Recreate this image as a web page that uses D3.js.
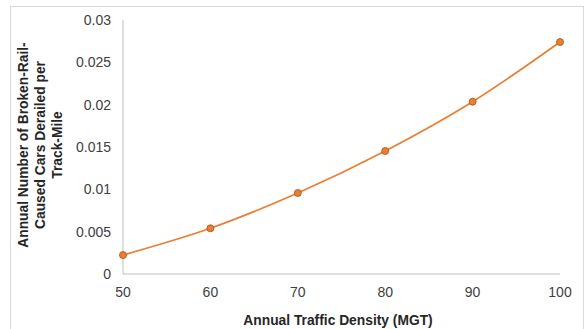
<!DOCTYPE html>
<html>
<head>
<meta charset="utf-8">
<script src="https://cdn.jsdelivr.net/npm/d3@7"></script>
<style>
  body { margin: 0; background: #fff; }
  text { font-family: "Liberation Sans", Arial, sans-serif; }
</style>
</head>
<body>
<svg id="chart"></svg>
<script>
var density = [50, 60, 70, 80, 90, 100];
var carsDerailed = [0.00224, 0.0054, 0.00957, 0.01453, 0.02035, 0.0274];
var yTicks = [0, 0.005, 0.01, 0.015, 0.02, 0.025, 0.03];
var xTicks = [50, 60, 70, 80, 90, 100];
var yTitle = ["Annual Number of Broken-Rail-", "Caused Cars Derailed per", "Track-Mile"];

var width = 585, height = 329;
var svg = d3.select("#chart").attr("width", width).attr("height", height);

// chart frame
svg.append("rect")
    .attr("x", 10.5).attr("y", 6.5)
    .attr("width", 573).attr("height", 330)
    .attr("fill", "#fff").attr("stroke", "#d9d9d9");

var x = d3.scaleLinear().domain([50, 100]).range([123, 560]);
var y = d3.scaleLinear().domain([0, 0.03]).range([274, 20]);

// axis lines
svg.append("line")
    .attr("x1", x(50)).attr("x2", x(50))
    .attr("y1", y(0.03)).attr("y2", y(0))
    .attr("stroke", "#bfbfbf");
svg.append("line")
    .attr("x1", x(50)).attr("x2", x(100))
    .attr("y1", y(0)).attr("y2", y(0))
    .attr("stroke", "#bfbfbf");

svg.selectAll(".ytick")
    .data(yTicks)
    .enter()
    .append("text")
    .attr("class", "ytick")
    .attr("x", 111)
    .attr("y", d => y(d) + 5)
    .attr("text-anchor", "end")
    .attr("font-size", 14)
    .attr("fill", "#404040")
    .text(d => d);

svg.selectAll(".xtick")
    .data(xTicks)
    .enter()
    .append("text")
    .attr("class", "xtick")
    .attr("x", d => x(d))
    .attr("y", 297)
    .attr("text-anchor", "middle")
    .attr("font-size", 14)
    .attr("fill", "#404040")
    .text(d => d);

svg.append("text")
    .attr("x", 338)
    .attr("y", 325)
    .attr("text-anchor", "middle")
    .attr("font-size", 13.8)
    .attr("font-weight", "bold")
    .attr("fill", "#262626")
    .text("Annual Traffic Density (MGT)");

var yt = svg.append("text")
    .attr("transform", "translate(28,145) rotate(-90)")
    .attr("text-anchor", "middle")
    .attr("font-size", 13.8)
    .attr("font-weight", "bold")
    .attr("fill", "#262626");
yt.selectAll("tspan")
    .data(yTitle)
    .enter()
    .append("tspan")
    .attr("x", 0)
    .attr("dy", (d, i) => i == 0 ? 0 : 17)
    .text(d => d);

var pts = density.map((d, i) => [d, carsDerailed[i]]);
var line = d3.line()
    .x(d => x(d[0]))
    .y(d => y(d[1]))
    .curve(d3.curveCatmullRom);

svg.append("path")
    .attr("d", line(pts))
    .attr("fill", "none")
    .attr("stroke", "#ed7d31")
    .attr("stroke-width", 1.75);

svg.selectAll(".pt")
    .data(pts)
    .enter()
    .append("circle")
    .attr("class", "pt")
    .attr("cx", d => x(d[0]))
    .attr("cy", d => y(d[1]))
    .attr("r", 3.5)
    .attr("fill", "#ed7d31")
    .attr("stroke", "#a3531f")
    .attr("stroke-width", 0.8);
</script>
</body>
</html>
